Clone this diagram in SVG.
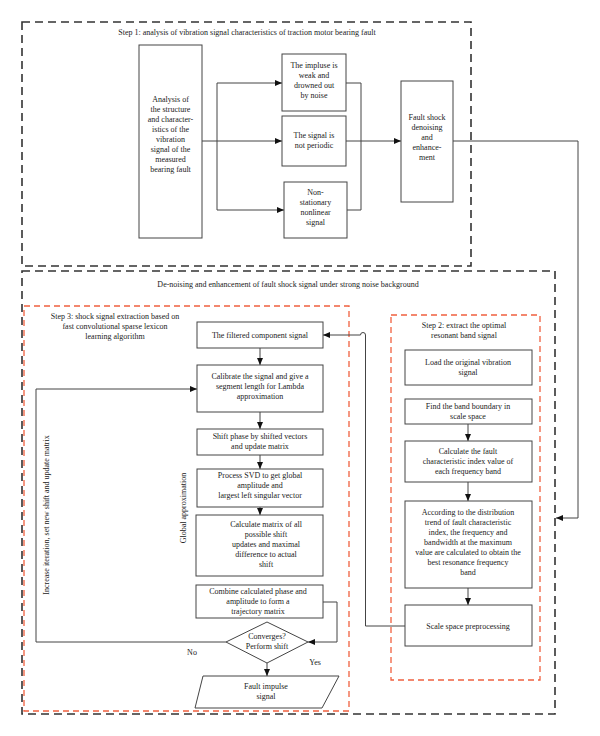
<svg xmlns="http://www.w3.org/2000/svg" width="600" height="736" viewBox="0 0 600 736">
<defs>
<style>
text{font-family:"Liberation Serif","Times New Roman",serif;font-size:8px;fill:#222;text-anchor:middle}
.box{fill:#fff;stroke:#444;stroke-width:1}
.frame{fill:none;stroke:#333;stroke-width:1.6;stroke-dasharray:8 5}
.oframe{fill:none;stroke:#f0603f;stroke-width:1.3;stroke-dasharray:6 4}
.ln{fill:none;stroke:#444;stroke-width:1}
.arr{marker-end:url(#ah)}
</style>
<marker id="ah" markerUnits="userSpaceOnUse" markerWidth="7" markerHeight="6" refX="7" refY="3" orient="auto">
<path d="M0,0 L7,3 L0,6 z" fill="#111"/>
</marker>
</defs>
<rect width="600" height="736" fill="#fff"/>

<g id="frames">
<rect class="frame" x="22" y="22" width="449" height="244"/>
<rect class="frame" x="22" y="271" width="533" height="443"/>
<rect class="oframe" x="24" y="306" width="325" height="405"/>
<rect class="oframe" x="391" y="315" width="149" height="365"/>
<text x="247" y="35">Step 1: analysis of vibration signal characteristics of traction motor bearing fault</text>
<text x="288" y="287">De-noising and enhancement of fault shock signal under strong noise background</text>
<text x="115" y="319">Step 3: shock signal extraction based on</text>
<text x="115" y="329">fast convolutional sparse lexicon</text>
<text x="115" y="339">learning algorithm</text>
<text x="464" y="328">Step 2: extract the optimal</text>
<text x="464" y="338">resonant band signal</text>
<text transform="translate(49,515) rotate(-90)">Increase iteration, set new shift and update matrix</text>
<text transform="translate(186,508) rotate(-90)">Global approximation</text>
</g>

<g id="connectors">
<path class="ln arr" d="M202,141 H282"/>
<path class="ln" d="M217,83 V210"/>
<path class="ln arr" d="M217,83 H282"/>
<path class="ln arr" d="M217,210 H284"/>
<path class="ln" d="M346,83 H361 V141"/>
<path class="ln" d="M347,210 H361 V141"/>
<path class="ln arr" d="M346,141 H401"/>
<path class="ln arr" d="M453,141 H578 V518 H556"/>
<path class="ln arr" d="M260,348 V365"/>
<path class="ln arr" d="M260,412 V429"/>
<path class="ln arr" d="M260,455 V469"/>
<path class="ln arr" d="M260,507 V515"/>
<path class="ln arr" d="M323,602 H337 V642 H308"/>
<path class="ln arr" d="M226,642 H36 V389 H197"/>
<path class="ln arr" d="M267,663 V676"/>
<path class="ln arr" d="M405,626 H365.5 V335 A2.5,2.5 0 0 0 360.5,335 H323"/>
<path class="ln arr" d="M468,424 V441"/>
<path class="ln arr" d="M468,482 V501"/>
<path class="ln arr" d="M468,588 V605"/>
<text x="192" y="655">No</text>
<text x="315" y="665">Yes</text>
</g>

<g id="n-analysis">
<rect class="box" x="139" y="45" width="63" height="193"/>
<text x="170.5" y="102">Analysis of</text>
<text x="170.5" y="112">the structure</text>
<text x="170.5" y="122">and character-</text>
<text x="170.5" y="132">istics of the</text>
<text x="170.5" y="142">vibration</text>
<text x="170.5" y="152">signal of the</text>
<text x="170.5" y="162">measured</text>
<text x="170.5" y="172">bearing fault</text>
</g>
<g id="n-impulse">
<rect class="box" x="282" y="54" width="64" height="57"/>
<text x="314" y="68">The impluse is</text>
<text x="314" y="78">weak and</text>
<text x="314" y="88">drowned out</text>
<text x="314" y="98">by noise</text>
</g>
<g id="n-periodic">
<rect class="box" x="282" y="116" width="64" height="50"/>
<text x="314" y="138">The signal is</text>
<text x="314" y="148">not periodic</text>
</g>
<g id="n-nonstationary">
<rect class="box" x="284" y="182" width="63" height="56"/>
<text x="315.5" y="195">Non-</text>
<text x="315.5" y="205">stationary</text>
<text x="315.5" y="215">nonlinear</text>
<text x="315.5" y="225">signal</text>
</g>
<g id="n-faultshock">
<rect class="box" x="401" y="81" width="52" height="121"/>
<text x="427" y="120">Fault shock</text>
<text x="427" y="130">denoising</text>
<text x="427" y="140">and</text>
<text x="427" y="150">enhance-</text>
<text x="427" y="160">ment</text>
</g>

<g id="n-filtered">
<rect class="box" x="197" y="322" width="126" height="26"/>
<text x="260" y="338">The filtered component signal</text>
</g>
<g id="n-calibrate">
<rect class="box" x="197" y="365" width="126" height="47"/>
<text x="260" y="379">Calibrate the signal and give a</text>
<text x="260" y="389">segment length for Lambda</text>
<text x="260" y="399">approximation</text>
</g>
<g id="n-shiftphase">
<rect class="box" x="197" y="429" width="126" height="26"/>
<text x="260" y="439">Shift phase by shifted vectors</text>
<text x="260" y="449">and update matrix</text>
</g>
<g id="n-svd">
<rect class="box" x="197" y="469" width="126" height="38"/>
<text x="260" y="478">Process SVD to get global</text>
<text x="260" y="488">amplitude and</text>
<text x="260" y="498">largest left singular vector</text>
</g>
<g id="n-calcmatrix">
<rect class="box" x="196" y="515" width="127" height="61"/>
<text x="266" y="527">Calculate matrix of all</text>
<text x="266" y="537">possible shift</text>
<text x="266" y="547">updates and maximal</text>
<text x="266" y="557">difference to actual</text>
<text x="266" y="567">shift</text>
</g>
<g id="n-combine">
<rect class="box" x="196" y="585" width="127" height="33"/>
<text x="258" y="594">Combine calculated phase and</text>
<text x="258" y="604">amplitude to form a</text>
<text x="258" y="614">trajectory matrix</text>
</g>
<g id="n-converges">
<polygon class="box" points="267,622 308,642 267,663 226,642"/>
<text x="267" y="639">Converges?</text>
<text x="267" y="649">Perform shift</text>
</g>
<g id="n-impulse-signal">
<polygon class="box" points="203,676 339,676 322,708 195,708"/>
<text x="266" y="689">Fault impulse</text>
<text x="266" y="699">signal</text>
</g>

<g id="n-load">
<rect class="box" x="405" y="350" width="127" height="35"/>
<text x="468" y="365">Load the original vibration</text>
<text x="468" y="375">signal</text>
</g>
<g id="n-find">
<rect class="box" x="405" y="399" width="127" height="25"/>
<text x="468" y="409">Find the band boundary in</text>
<text x="468" y="419">scale space</text>
</g>
<g id="n-calcindex">
<rect class="box" x="405" y="441" width="127" height="41"/>
<text x="468" y="454">Calculate the fault</text>
<text x="468" y="464">characteristic index value of</text>
<text x="468" y="474">each frequency band</text>
</g>
<g id="n-according">
<rect class="box" x="405" y="501" width="127" height="87"/>
<text x="468" y="515">According to the distribution</text>
<text x="468" y="525">trend of fault characteristic</text>
<text x="468" y="535">index, the frequency and</text>
<text x="468" y="545">bandwidth at the maximum</text>
<text x="468" y="555">value are calculated to obtain the</text>
<text x="468" y="565">best resonance frequency</text>
<text x="468" y="575">band</text>
</g>
<g id="n-scale">
<rect class="box" x="405" y="605" width="127" height="41"/>
<text x="468" y="629">Scale space preprocessing</text>
</g>
</svg>
